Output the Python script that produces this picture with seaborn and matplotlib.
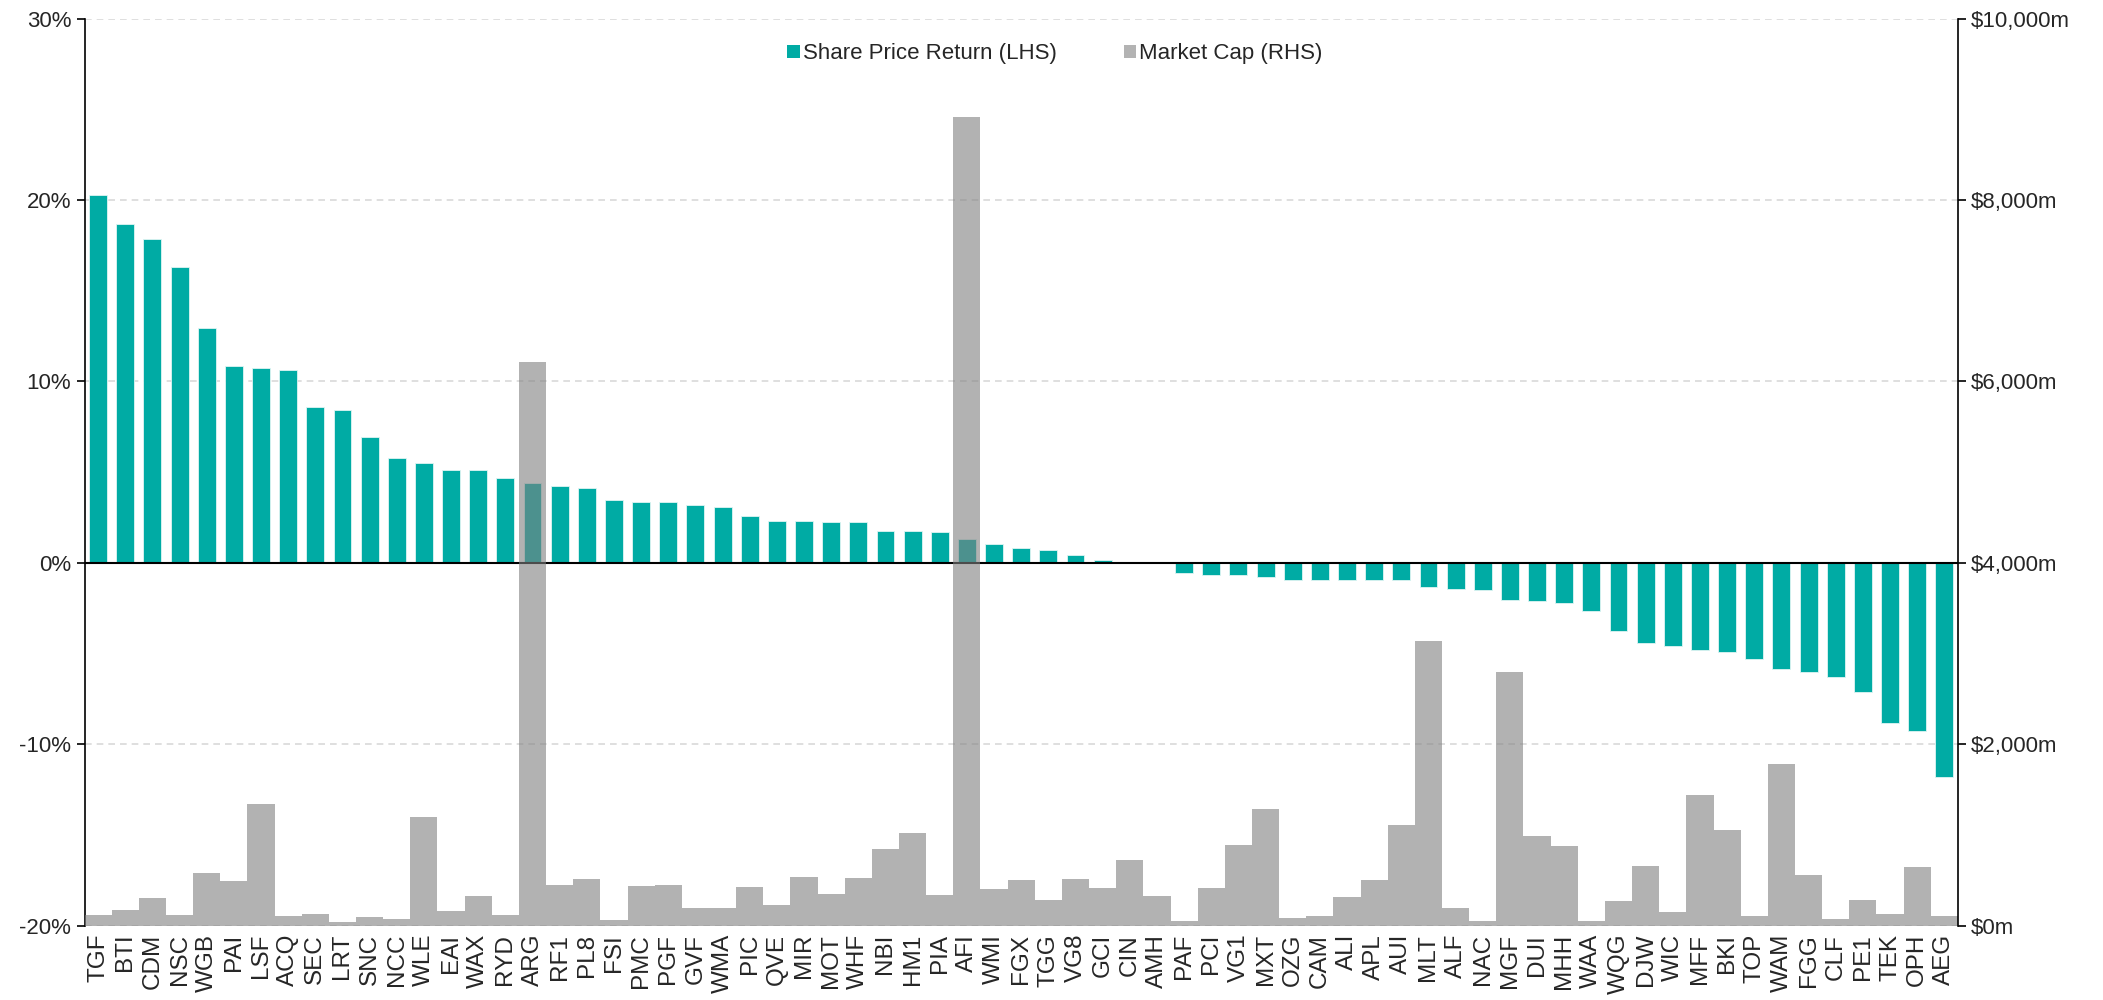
import numpy as np
import pandas as pd
import matplotlib
matplotlib.use("Agg")
import matplotlib.pyplot as plt
import matplotlib.ticker as mticker
from matplotlib.patches import Patch
import seaborn as sns

# data
tickers = ["TGF", "BTI", "CDM", "NSC", "WGB", "PAI", "LSF", "ACQ", "SEC", "LRT",
           "SNC", "NCC", "WLE", "EAI", "WAX", "RYD", "ARG", "RF1", "PL8", "FSI",
           "PMC", "PGF", "GVF", "WMA", "PIC", "QVE", "MIR", "MOT", "WHF", "NBI",
           "HM1", "PIA", "AFI", "WMI", "FGX", "TGG", "VG8", "GCI", "CIN", "AMH",
           "PAF", "PCI", "VG1", "MXT", "OZG", "CAM", "ALI", "APL", "AUI", "MLT",
           "ALF", "NAC", "MGF", "DUI", "MHH", "WAA", "WQG", "DJW", "WIC", "MFF",
           "BKI", "TOP", "WAM", "FGG", "CLF", "PE1", "TEK", "OPH", "AEG"]

share_return = [20.26, 18.71, 17.83, 16.30, 12.97, 10.83, 10.76, 10.61, 8.60, 8.40,
                6.96, 5.80, 5.51, 5.14, 5.12, 4.70, 4.42, 4.24, 4.14, 3.48,
                3.38, 3.33, 3.20, 3.07, 2.56, 2.32, 2.28, 2.26, 2.24, 1.78,
                1.78, 1.71, 1.34, 1.05, 0.79, 0.72, 0.42, 0.18, 0.0, 0.0,
                -0.57, -0.68, -0.68, -0.79, -0.92, -0.94, -0.97, -0.97, -0.97, -1.31,
                -1.45, -1.49, -2.04, -2.08, -2.19, -2.65, -3.77, -4.43, -4.61, -4.82,
                -4.93, -5.28, -5.85, -6.01, -6.31, -7.13, -8.86, -9.30, -11.8]

market_cap = [119, 167, 307, 119, 575, 491, 1340, 108, 127, 35,
              94, 72, 1200, 160, 322, 112, 6215, 447, 513, 61,
              432, 443, 197, 197, 421, 222, 535, 347, 524, 847,
              1020, 336, 8920, 399, 506, 278, 509, 414, 722, 325,
              50, 417, 884, 1285, 79, 108, 318, 502, 1108, 3134,
              197, 50, 2800, 987, 880, 50, 270, 656, 145, 1439,
              1053, 105, 1781, 553, 72, 278, 130, 642, 101]

df = pd.DataFrame({"ticker": tickers, "ret": share_return, "mcap": market_cap})

teal = "#00aba4"
grey = "#808080"

sns.set_style("white")
plt.rcParams["font.family"] = ["Liberation Sans", "DejaVu Sans"]

fig = plt.figure(figsize=(21.03, 10), dpi=100)
ax = fig.add_axes([0.0402, 0.0745, 0.8908, 0.9067])

ax.yaxis.grid(True, linestyle=(0, (4, 3)), color="#d9d9d9", linewidth=1.2)
ax.set_axisbelow(True)

sns.barplot(data=df, x="ticker", y="ret", color=teal, width=0.66,
            saturation=1, edgecolor="#dff5f3", linewidth=0.6, ax=ax)
ax.axhline(0, color="black", linewidth=1.5, zorder=2)

ax2 = ax.twinx()
sns.barplot(data=df, x="ticker", y="mcap", color=grey, width=1.0,
            saturation=1, alpha=0.6, edgecolor="none", linewidth=0, ax=ax2)

ax.set_xlim(-0.5, len(tickers) - 0.5)
ax.set_ylim(-20, 30)
ax.set_yticks(np.arange(-20, 31, 10))
ax.yaxis.set_major_formatter(mticker.FuncFormatter(lambda v, p: f"{v:.0f}%"))
ax2.set_ylim(0, 10000)
ax2.set_yticks(np.arange(0, 10001, 2000))
ax2.yaxis.set_major_formatter(mticker.FuncFormatter(lambda v, p: f"${v:,.0f}m"))

ax.set_xlabel("")
ax.set_ylabel("")
ax2.set_xlabel("")
ax2.set_ylabel("")

ax.tick_params(axis="x", labelrotation=90, labelsize=17.5, length=0, pad=6)
ax.tick_params(axis="y", labelsize=16, length=6, width=1.2, color="black", left=True, direction="out")
ax2.tick_params(axis="y", labelsize=16, length=6, width=1.2, color="black", right=True, direction="out")
ax2.tick_params(axis="x", length=0)

for a in (ax, ax2):
    a.spines["top"].set_visible(False)
    a.spines["bottom"].set_visible(False)
ax.spines["right"].set_visible(False)
ax2.spines["left"].set_visible(False)
ax.spines["left"].set_color("black")
ax.spines["left"].set_linewidth(1.2)
ax2.spines["right"].set_color("black")
ax2.spines["right"].set_linewidth(1.2)

handles = [Patch(facecolor=teal, edgecolor="none", label="Share Price Return (LHS)"),
           Patch(facecolor="#b3b3b3", edgecolor="none", label="Market Cap (RHS)")]
ax2.legend(handles=handles, loc="upper center", bbox_to_anchor=(0.518, 0.995), ncol=2,
           frameon=False, fontsize=16, handlelength=0.55, handleheight=0.55,
           handletextpad=0.15, columnspacing=3.0)

fig.savefig("out.png", dpi=100)
